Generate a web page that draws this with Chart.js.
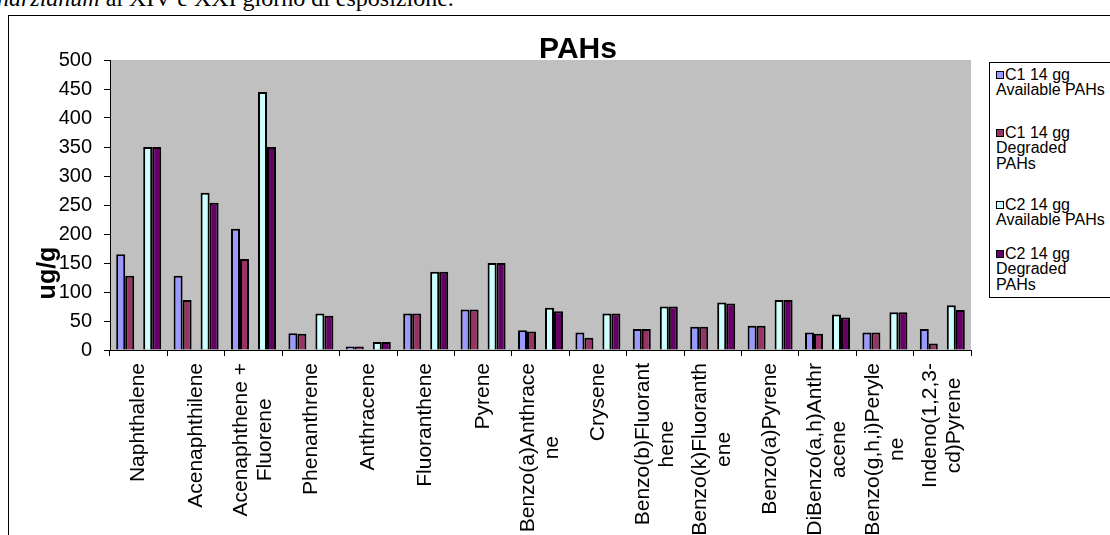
<!DOCTYPE html>
<html>
<head>
<meta charset="utf-8">
<title>PAHs</title>
<script src="https://cdn.jsdelivr.net/npm/chart.js@4.4.1/dist/chart.umd.min.js"></script>
<style>
  body { margin: 0; background: #fff; width: 1110px; height: 535px; overflow: hidden; position: relative; }
  #caption { position: absolute; left: -3px; top: -12px; font: 24px 'Liberation Serif', 'Times New Roman', serif; line-height: 20px; white-space: nowrap; color: #000; }
  #frame { position: absolute; left: 8px; top: 15px; width: 1200px; height: 600px; border: 1px solid #000; }
  #chart { position: absolute; left: 0; top: 0; }
  #title { position: absolute; left: 478px; top: 33px; width: 200px; text-align: center; font: bold 30px 'Liberation Sans', Arial, sans-serif; line-height: 30px; }
  #ytitle { position: absolute; left: -4px; top: 259px; width: 100px; text-align: center; font: bold 25px 'Liberation Sans', Arial, sans-serif; line-height: 28px; transform: rotate(-90deg); }
  #legend { position: absolute; left: 989px; top: 62px; width: 140px; height: 234px; border: 1px solid #000; background: #fff; }
  .entry { position: absolute; left: 6px; font: 16px 'Liberation Sans', Arial, sans-serif; line-height: 15.3px; white-space: nowrap; }
  .mark { display: inline-block; width: 6px; height: 6px; border: 1px solid #000; margin-right: 1px; vertical-align: 1px; }
</style>
</head>
<body>
<div id="caption"><i>harzianum</i> al XIV e XXI giorno di esposizione.</div>
<div id="frame"></div>
<canvas id="chart" width="1110" height="535"></canvas>
<div id="title">PAHs</div>
<div id="ytitle">ug/g</div>
<div id="legend"></div>
<script>

//
// Data
//
const categories = [
  'Naphthalene', 'Acenaphthilene', ['Acenaphthene +', 'Fluorene'], 'Phenanthrene',
  'Anthracene', 'Fluoranthene', 'Pyrene', ['Benzo(a)Anthrace', 'ne'], 'Crysene',
  ['Benzo(b)Fluorant', 'hene'], ['Benzo(k)Fluoranth', 'ene'], 'Benzo(a)Pyrene',
  ['DiBenzo(a,h)Anthr', 'acene'], ['Benzo(g,h,i)Peryle', 'ne'], ['Indeno(1,2,3-', 'cd)Pyrene']
];
const c1Available = [165, 128, 209, 29, 6, 63, 70, 34, 30, 36, 40, 42, 30, 30, 36];
const c1Degraded  = [128, 86, 157, 28, 6, 63, 70, 32, 21, 36, 40, 42, 28, 30, 11];
const c2Available = [350, 271, 445, 63, 14, 135, 150, 73, 63, 75, 82, 86, 61, 65, 77];
const c2Degraded  = [350, 254, 350, 59, 14, 135, 150, 67, 63, 75, 80, 86, 56, 65, 69];
const seriesLabels = [
  ['C1 14 gg', 'Available PAHs'],
  ['C1 14 gg', 'Degraded', 'PAHs'],
  ['C2 14 gg', 'Available PAHs'],
  ['C2 14 gg', 'Degraded', 'PAHs']
];
const yTicks = { min: 0, max: 500, step: 50 };

//
// Styles
//
const seriesColors = ['#9999FF', '#993366', '#CCFFFF', '#660066'];
const legendTops = [66, 124, 196, 245];
const FONT = "'Liberation Sans', Arial, sans-serif";

//
// Plugins
//
const plotBackground = {
  id: 'plotBackground',
  beforeDraw(chart) {
    const a = chart.chartArea;
    const ctx = chart.ctx;
    ctx.save();
    ctx.fillStyle = '#C0C0C0';
    ctx.fillRect(a.left, a.top, a.right - a.left, a.bottom - a.top);
    ctx.restore();
  }
};

// rotated category labels, lines centred on each other like the original
const categoryLabels = {
  id: 'categoryLabels',
  afterDraw(chart) {
    const scale = chart.scales.x;
    const ctx = chart.ctx;
    const lineGap = 24;
    ctx.save();
    ctx.font = '21px ' + FONT;
    ctx.fillStyle = '#000';
    ctx.textAlign = 'center';
    ctx.textBaseline = 'middle';
    categories.forEach((label, i) => {
      const lines = Array.isArray(label) ? label : [label];
      const widest = Math.max(...lines.map(l => ctx.measureText(l).width));
      const cx = scale.getPixelForValue(i);
      const top = scale.top + 13;
      lines.forEach((line, j) => {
        ctx.save();
        ctx.translate(cx + (j - (lines.length - 1) / 2) * lineGap, top + widest / 2);
        ctx.rotate(-Math.PI / 2);
        ctx.fillText(line, 0, 0);
        ctx.restore();
      });
    });
    ctx.restore();
  }
};

//
// Chart
//
const dataset = (label, data, color) => ({
  label: label,
  data: data,
  backgroundColor: color,
  borderColor: '#000',
  borderWidth: 2
});

new Chart(document.getElementById('chart').getContext('2d'), {
  type: 'bar',
  data: {
    labels: categories,
    datasets: [
      dataset(seriesLabels[0].join(' '), c1Available, seriesColors[0]),
      dataset(seriesLabels[1].join(' '), c1Degraded, seriesColors[1]),
      dataset('', [], 'transparent'),
      dataset(seriesLabels[2].join(' '), c2Available, seriesColors[2]),
      dataset(seriesLabels[3].join(' '), c2Degraded, seriesColors[3])
    ]
  },
  options: {
    responsive: false,
    animation: false,
    categoryPercentage: 0.784,
    barPercentage: 1,
    layout: { padding: { top: 60, right: 139, left: 0, bottom: 0 } },
    plugins: {
      legend: { display: false },
      title: { display: false },
      tooltip: { enabled: false }
    },
    scales: {
      x: {
        grid: { drawOnChartArea: false, drawTicks: true, tickLength: 6, color: '#000', offset: true },
        border: { color: '#000', width: 1 },
        ticks: { display: false },
        afterFit(s) { s.height = 185; }
      },
      y: {
        min: yTicks.min,
        max: yTicks.max,
        ticks: { stepSize: yTicks.step, color: '#000', padding: 12, font: { family: FONT, size: 20 } },
        grid: { drawOnChartArea: false, tickLength: 6, color: '#000' },
        border: { color: '#000', width: 1 },
        afterFit(s) { s.width = 110; }
      }
    }
  },
  plugins: [plotBackground, categoryLabels]
});

//
// Legend
//
const legend = document.getElementById('legend');
seriesLabels.forEach((lines, i) => {
  const entry = document.createElement('div');
  entry.className = 'entry';
  entry.style.top = (legendTops[i] - 62) + 'px';
  const mark = document.createElement('span');
  mark.className = 'mark';
  mark.style.background = seriesColors[i];
  entry.appendChild(mark);
  lines.forEach((line, j) => {
    if (j > 0) entry.appendChild(document.createElement('br'));
    entry.appendChild(document.createTextNode(line));
  });
  legend.appendChild(entry);
});
</script>
</body>
</html>
